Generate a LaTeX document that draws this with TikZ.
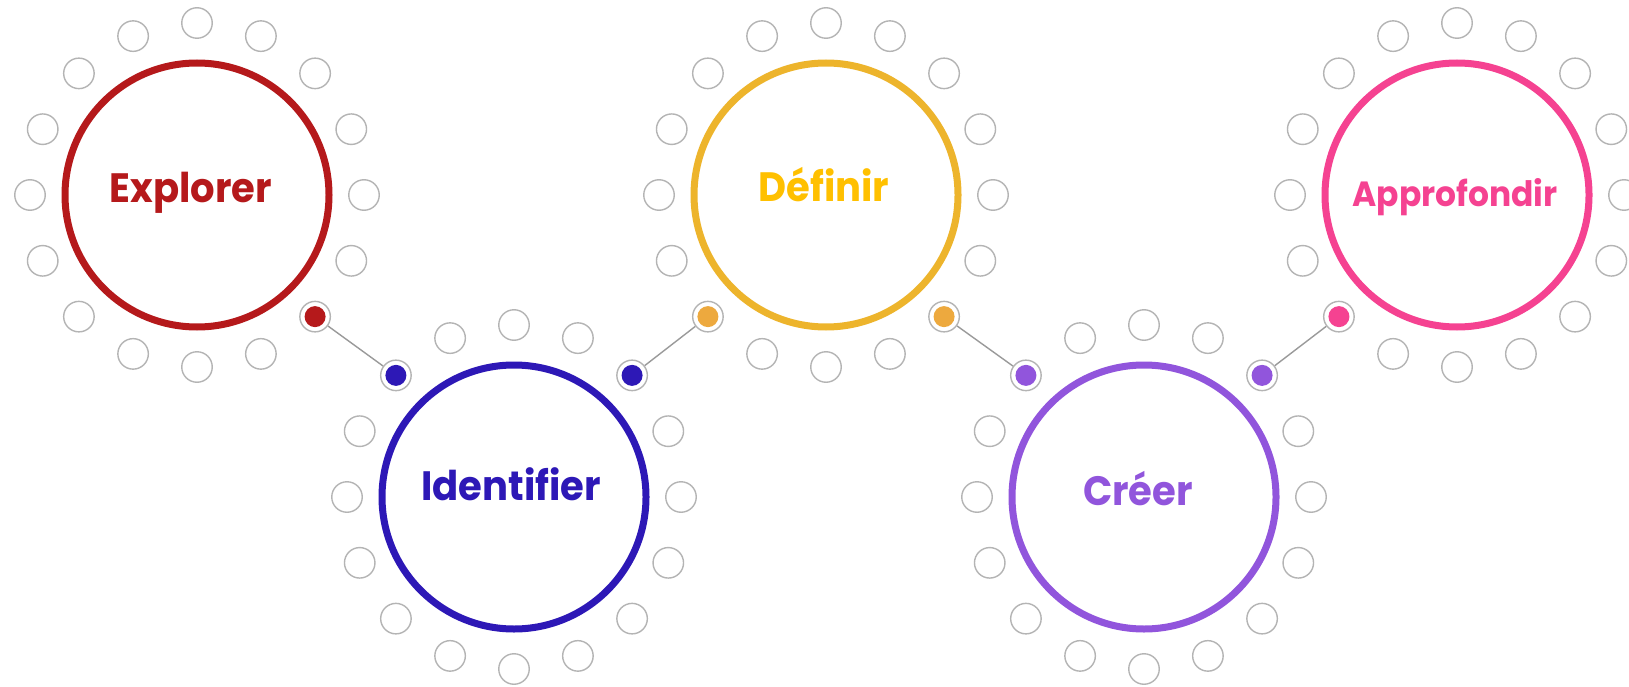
\documentclass[tikz,border=0pt]{standalone}
\usepackage{fontspec}
\setmainfont{Poppins}
\definecolor{cRed}{HTML}{B5191B}
\definecolor{cBlue}{HTML}{2D18B6}
\definecolor{cGold}{HTML}{EDB42C}
\definecolor{cGoldTxt}{HTML}{FFC000}
\definecolor{cGoldDot}{HTML}{EDA93E}
\definecolor{cPurple}{HTML}{9155DC}
\definecolor{cPink}{HTML}{F54291}
\definecolor{cGray}{HTML}{B4B4B4}
\definecolor{cLine}{HTML}{9A9A9A}
\newcommand\smallringsof[4]{%
  \foreach \a [count=\k] in {#4}
    \node[smallring] (#1-\k) at ({#2+167*cos(\a)},{#3-172*sin(\a)}) {};}
\begin{document}
\begin{tikzpicture}[x=1pt,y=-1pt,
  bigring/.style={circle,draw=#1,line width=7pt,minimum size=264pt,inner sep=0pt},
  smallring/.style={circle,draw=cGray,line width=1.4pt,fill=white,minimum size=30.5pt,inner sep=0pt},
  dotring/.style={circle,draw=cGray,line width=1.4pt,fill=white,minimum size=30.5pt,inner sep=0pt,
    path picture={\fill[#1] (path picture bounding box.center) circle (10.5pt);}},
  steptext/.style={text=#1,font=\bfseries\fontsize{41}{48}\selectfont,anchor=base,inner sep=0pt,xscale=0.94},
  link/.style={draw=cLine,line width=1.4pt}]
\useasboundingbox (0,0) rectangle (1629,687);
\fill[white] (0,0) rectangle (1629,687);
\begin{scope}
\clip (0,0) rectangle (1629,687);
% big rings
\node[bigring=cRed] (c1) at (197,195) {};
\node[bigring=cBlue] (c2) at (514,497) {};
\node[bigring=cGold] (c3) at (826,195) {};
\node[bigring=cPurple] (c4) at (1144,497) {};
\node[bigring=cPink] (c5) at (1457,195) {};
% small rings
\smallringsof{r1}{197}{195}{0,22.5,45,67.5,90,112.5,135,157.5,180,202.5,225,247.5,270,292.5,337.5}
\smallringsof{r2}{514}{497}{0,22.5,67.5,90,112.5,157.5,180,202.5,225,247.5,270,292.5,315,337.5}
\smallringsof{r3}{826}{195}{0,22.5,45,67.5,90,112.5,135,157.5,180,202.5,247.5,270,292.5,337.5}
\smallringsof{r4}{1144}{497}{0,22.5,67.5,90,112.5,157.5,180,202.5,225,247.5,270,292.5,315,337.5}
\smallringsof{r5}{1457}{195}{0,22.5,45,67.5,90,112.5,135,157.5,180,202.5,247.5,270,292.5,315,337.5}
% connector dots
\node[dotring=cRed] (d1r) at ({197+167*cos(315)},{195-172*sin(315)}) {};
\node[dotring=cBlue] (d2l) at ({514+167*cos(135)},{497-172*sin(135)}) {};
\node[dotring=cBlue] (d2r) at ({514+167*cos(45)},{497-172*sin(45)}) {};
\node[dotring=cGoldDot] (d3l) at ({826+167*cos(225)},{195-172*sin(225)}) {};
\node[dotring=cGoldDot] (d3r) at ({826+167*cos(315)},{195-172*sin(315)}) {};
\node[dotring=cPurple] (d4l) at ({1144+167*cos(135)},{497-172*sin(135)}) {};
\node[dotring=cPurple] (d4r) at ({1144+167*cos(45)},{497-172*sin(45)}) {};
\node[dotring=cPink] (d5l) at ({1457+167*cos(225)},{195-172*sin(225)}) {};
% connectors
\draw[link] (d1r) -- (d2l);
\draw[link] (d2r) -- (d3l);
\draw[link] (d3r) -- (d4l);
\draw[link] (d4r) -- (d5l);
% labels
\node[steptext=cRed] (t1) at (191,203) {Explorer};
\node[steptext=cBlue] (t2) at (511,500) {Identifier};
\node[steptext=cGoldTxt] (t3) at (824,201) {Définir};
\node[steptext=cPurple] (t4) at (1138,505) {Créer};
\node[steptext=cPink,font=\bfseries\fontsize{35}{42}\selectfont] (t5) at (1455,206) {Approfondir};
\end{scope}
\end{tikzpicture}
\end{document}
